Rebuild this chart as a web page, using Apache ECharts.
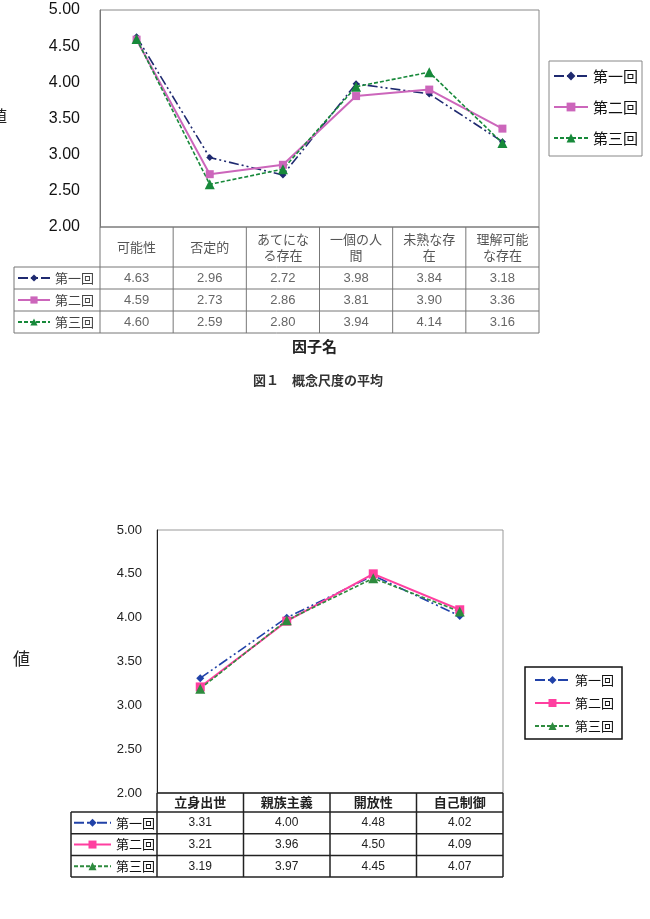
<!DOCTYPE html>
<html><head><meta charset="utf-8">
<script src="https://cdn.jsdelivr.net/npm/echarts@6/dist/echarts.min.js"></script>
<style>html,body{margin:0;padding:0;background:#fff}#c{width:650px;height:919px}</style>
</head><body><div id="c"></div>
<script>
// ---- data ----
const seriesNames = ['第一回', '第二回', '第三回'];
const topCategories = ['可能性', '否定的', 'あてになる存在', '一個の人間', '未熟な存在', '理解可能な存在'];
const topRound1 = [4.63, 2.96, 2.72, 3.98, 3.84, 3.18];
const topRound2 = [4.59, 2.73, 2.86, 3.81, 3.90, 3.36];
const topRound3 = [4.60, 2.59, 2.80, 3.94, 4.14, 3.16];
const bottomCategories = ['立身出世', '親族主義', '開放性', '自己制御'];
const bottomRound1 = [3.31, 4.00, 4.48, 4.02];
const bottomRound2 = [3.21, 3.96, 4.50, 4.09];
const bottomRound3 = [3.19, 3.97, 4.45, 4.07];
const yTicks = [2.00, 2.50, 3.00, 3.50, 4.00, 4.50, 5.00];
const yAxisTitle = '値';
const topXAxisTitle = '因子名';
const topCaption = '図１　概念尺度の平均';

// ---- layout ----
const FONT = "'Liberation Sans', 'Noto Sans CJK JP', sans-serif";
const JP = "'Noto Sans CJK JP', sans-serif";
const G1 = {left: 100, top: 10, width: 439, height: 217};
const G2 = {left: 157, top: 530, width: 346, height: 263};
const T1 = {left: 14, header: 40, row: 22};
const T2 = {left: 71, header: 19, row: 21.7};

const topColors = ['#1F2A70', '#CC66BB', '#17893A'];
const botColors = ['#2142A8', '#FF3FA0', '#2E8B3E'];
const lineTypes = [[10, 3, 2, 3, 2, 3], 'solid', [4, 2]];
const symbols = ['diamond', 'rect', 'triangle'];
const topData = [topRound1, topRound2, topRound3];
const botData = [bottomRound1, bottomRound2, bottomRound3];

function wrap4(s) { const out = []; for (let i = 0; i < s.length; i += 4) out.push(s.slice(i, i + 4)); return out.join('\n'); }

const xAxes = [];
const yAxes = [];
const series = [];

// top chart axes
xAxes.push({gridIndex: 0, type: 'category', data: topCategories, position: 'bottom',
  axisLine: {show: false}, axisTick: {show: false},
  axisLabel: {interval: 0, margin: T1.header / 2, verticalAlign: 'middle', fontSize: 13, lineHeight: 16,
    color: '#555', fontFamily: JP, formatter: v => wrap4(v)}});
topData.forEach((arr, k) => {
  xAxes.push({gridIndex: 0, type: 'category', data: topCategories, position: 'bottom',
    axisLine: {show: false}, axisTick: {show: false},
    axisLabel: {interval: 0, margin: T1.header + T1.row * (k + 0.5), verticalAlign: 'middle', fontSize: 13,
      color: '#666', fontFamily: FONT, formatter: (v, i) => arr[i].toFixed(2)}});
});
// bottom chart axes
xAxes.push({gridIndex: 1, type: 'category', data: bottomCategories, position: 'bottom',
  axisLine: {show: false}, axisTick: {show: false},
  axisLabel: {interval: 0, margin: T2.header / 2, verticalAlign: 'middle', fontSize: 13,
    color: '#222', fontFamily: JP, fontWeight: 'bold'}});
botData.forEach((arr, k) => {
  xAxes.push({gridIndex: 1, type: 'category', data: bottomCategories, position: 'bottom',
    axisLine: {show: false}, axisTick: {show: false},
    axisLabel: {interval: 0, margin: T2.header + T2.row * (k + 0.5), verticalAlign: 'middle', fontSize: 12,
      color: '#222', fontFamily: FONT, formatter: (v, i) => arr[i].toFixed(2)}});
});
const botXIndex = 4;

yAxes.push({gridIndex: 0, type: 'value', min: yTicks[0], max: yTicks[yTicks.length - 1], interval: 0.5,
  splitLine: {show: false}, axisLine: {show: true, lineStyle: {color: '#777'}}, axisTick: {show: false},
  axisLabel: {fontSize: 16, color: '#111', margin: 20, fontFamily: FONT, formatter: v => v.toFixed(2)}});
yAxes.push({gridIndex: 1, type: 'value', min: yTicks[0], max: yTicks[yTicks.length - 1], interval: 0.5,
  splitLine: {show: false}, axisLine: {show: true, lineStyle: {color: '#222'}}, axisTick: {show: false},
  axisLabel: {fontSize: 13, color: '#222', margin: 15, fontFamily: FONT, formatter: v => v.toFixed(2)}});

const symSizesTop = [7, 8, 10];
const symSizesBot = [8, 9, 10];
seriesNames.forEach((n, k) => {
  series.push({name: n, type: 'line', xAxisIndex: 0, yAxisIndex: 0, data: topData[k],
    symbol: symbols[k], symbolSize: symSizesTop[k], color: topColors[k],
    lineStyle: {color: topColors[k], width: k === 1 ? 2 : 1.6, type: lineTypes[k]},
    itemStyle: {color: topColors[k]}, animation: false});
});
seriesNames.forEach((n, k) => {
  series.push({name: 'B:' + n, type: 'line', xAxisIndex: botXIndex, yAxisIndex: 1, data: botData[k],
    symbol: symbols[k], symbolSize: symSizesBot[k], color: botColors[k],
    lineStyle: {color: botColors[k], width: k === 1 ? 2 : 1.6, type: lineTypes[k]},
    itemStyle: {color: botColors[k]}, animation: false});
});

const strip = n => n.split(':').pop();
const legends = [
  {data: seriesNames.slice(), orient: 'vertical', left: 549, top: 61, padding: [5, 4, 8, 4],
    itemWidth: 34, itemHeight: 11, itemGap: 11, borderColor: '#888', borderWidth: 1,
    textStyle: {fontSize: 15, lineHeight: 20, color: '#111', fontFamily: JP}, selectedMode: false},
  {data: seriesNames.slice(), orient: 'vertical', left: T1.left + 3, top: G1.top + G1.height + T1.header, padding: 0,
    itemWidth: 32, itemHeight: 9, itemGap: 0, itemTextGap: 7,
    textStyle: {fontSize: 13, lineHeight: T1.row, color: '#444', fontFamily: JP}, selectedMode: false},
  {data: seriesNames.map(n => 'B:' + n), formatter: strip, orient: 'vertical', left: 525, top: 667, padding: [4, 8, 4, 9],
    itemWidth: 35, itemHeight: 10, itemGap: 5, borderColor: '#111', borderWidth: 1.5,
    textStyle: {fontSize: 13, lineHeight: 18, color: '#111', fontFamily: JP}, selectedMode: false},
  {data: seriesNames.map(n => 'B:' + n), formatter: strip, orient: 'vertical', left: T2.left + 2, top: G2.top + G2.height + T2.header, padding: 0,
    itemWidth: 37, itemHeight: 10, itemGap: 0, itemTextGap: 3,
    textStyle: {fontSize: 13, lineHeight: T2.row, color: '#111', fontFamily: JP}, selectedMode: false}
];

// table lines
const graphics = [];
function table(g, t, n, color, w) {
  const y0 = g.top + g.height, yH = y0 + t.header, yEnd = yH + t.row * 3;
  const cw = g.width / n, right = g.left + g.width;
  for (let i = 0; i <= n; i++) {
    const x = g.left + cw * i;
    graphics.push({type: 'line', shape: {x1: x, y1: y0, x2: x, y2: yEnd}, style: {stroke: color, lineWidth: w}, z: 10});
  }
  graphics.push({type: 'line', shape: {x1: t.left, y1: yH, x2: t.left, y2: yEnd}, style: {stroke: color, lineWidth: w}, z: 10});
  graphics.push({type: 'line', shape: {x1: g.left, y1: y0, x2: right, y2: y0}, style: {stroke: color, lineWidth: w}, z: 10});
  for (let r = 0; r <= 3; r++) {
    const y = yH + t.row * r;
    graphics.push({type: 'line', shape: {x1: t.left, y1: y, x2: right, y2: y}, style: {stroke: color, lineWidth: w}, z: 10});
  }
}
table(G1, T1, topCategories.length, '#777', 1);
table(G2, T2, bottomCategories.length, '#222', 1.5);

graphics.push({type: 'text', left: -9, top: 108, style: {text: yAxisTitle, fontSize: 16, fill: '#222', fontFamily: JP}});
graphics.push({type: 'text', left: 13, top: 650, style: {text: yAxisTitle, fontSize: 17, fill: '#222', fontFamily: JP}});
graphics.push({type: 'text', left: 292, top: 339, style: {text: topXAxisTitle, fontSize: 15, fill: '#222', fontFamily: JP, fontWeight: 'bold'}});
graphics.push({type: 'text', left: 253, top: 374, style: {text: topCaption, fontSize: 13, fill: '#333', fontFamily: JP, fontWeight: 'bold'}});

const chart = echarts.init(document.getElementById('c'), null, {renderer: 'canvas'});
chart.setOption({
  animation: false,
  backgroundColor: '#fff',
  grid: [
    {left: G1.left, top: G1.top, width: G1.width, height: G1.height, show: true, borderColor: '#888', borderWidth: 1, backgroundColor: '#fff'},
    {left: G2.left, top: G2.top, width: G2.width, height: G2.height, show: true, borderColor: '#999', borderWidth: 1, backgroundColor: '#fff'}
  ],
  xAxis: xAxes,
  yAxis: yAxes,
  legend: legends,
  series: series,
  graphic: graphics
});
</script></body></html>
